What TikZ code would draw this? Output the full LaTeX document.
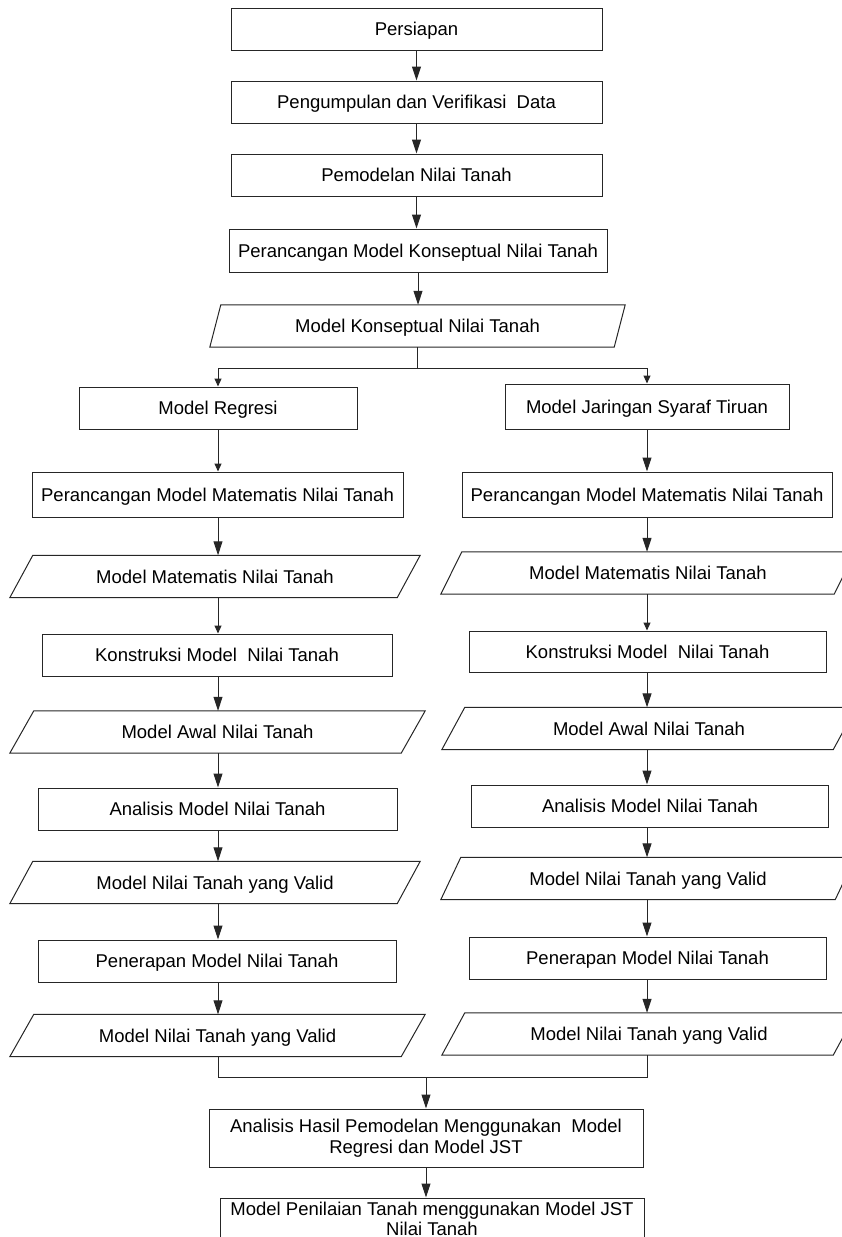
\documentclass[tikz,border=0pt]{standalone}
\usepackage{fontspec}
\setmainfont{Liberation Sans}
\usetikzlibrary{arrows.meta}

\tikzset{
  flow/.style={draw=black!85, line width=1pt},
  proc/.style={flow, rectangle, minimum height=42pt, inner sep=0pt, align=center,
    text height=15pt, text depth=2pt, font=\fontsize{18.5}{20}\selectfont},
  io/.style={rectangle, minimum height=42pt, inner sep=0pt, align=center,
    text height=15pt, text depth=2pt, font=\fontsize{18.5}{20}\selectfont},
  twoline/.style={text height=, text depth=},
  big/.style={flow, -{Triangle[width=9pt,length=14pt]}},
  small/.style={flow, -{Triangle[width=7pt,length=8pt]}},
}

% parallelogram: name, x, y, overall width, skew, text
\newcommand{\ionode}[6]{%
  \node[io, minimum width=#4pt-#5pt] (#1) at (#2,#3) {#6};
  \draw[flow] ([xshift=-#5pt/2]#1.south west) -- ([xshift=-#5pt/2]#1.south east)
    -- ([xshift=#5pt/2]#1.north east) -- ([xshift=#5pt/2]#1.north west) -- cycle;
}

\begin{document}
\begin{tikzpicture}[x=1pt,y=-1pt]
  \useasboundingbox (0,0) rectangle (841,1237);

  \node[proc, minimum width=371pt] (persiapan) at (416.5,29) {Persiapan};
  \node[proc, minimum width=371pt] (kumpul) at (416.5,102) {Pengumpulan dan Verifikasi~ Data};
  \node[proc, minimum width=371pt] (pemodelan) at (416.5,175) {Pemodelan Nilai Tanah};
  \node[proc, minimum width=378pt, minimum height=43pt] (rancang) at (418,250.5) {Perancangan Model Konseptual Nilai Tanah};
  \ionode{konsep}{417.5}{326}{415}{11}{Model Konseptual Nilai Tanah}

  %% kolom regresi
  \node[proc, minimum width=278pt] (regresi) at (218,408) {Model Regresi};
  \node[proc, minimum width=371pt, minimum height=45pt] (rgMat) at (217.5,494.5) {Perancangan Model Matematis Nilai Tanah};
  \ionode{rgMM}{215}{576.5}{410}{23}{Model Matematis Nilai Tanah}
  \node[proc, minimum width=350pt] (rgKons) at (217,655) {Konstruksi Model~ Nilai Tanah};
  \ionode{rgAwal}{217.5}{732}{415}{24}{Model Awal Nilai Tanah}
  \node[proc, minimum width=359pt] (rgAna) at (217.5,809) {Analisis Model Nilai Tanah};
  \ionode{rgValid}{215}{882.5}{410}{23}{Model Nilai Tanah yang Valid}
  \node[proc, minimum width=358pt] (rgTerap) at (217,961) {Penerapan Model Nilai Tanah};
  \ionode{rgHasil}{217.5}{1035.5}{415}{24}{Model Nilai Tanah yang Valid}

  %% kolom JST
  \node[proc, minimum width=284pt, minimum height=45pt] (jst) at (647,406.5) {Model Jaringan Syaraf Tiruan};
  \node[proc, minimum width=370pt, minimum height=45pt] (jsMat) at (647,494.5) {Perancangan Model Matematis Nilai Tanah};
  \ionode{jsMM}{648}{573}{414}{21}{Model Matematis Nilai Tanah}
  \node[proc, minimum width=357pt, minimum height=41pt] (jsKons) at (647.5,651.5) {Konstruksi Model~ Nilai Tanah};
  \ionode{jsAwal}{649}{728.5}{414}{23}{Model Awal Nilai Tanah}
  \node[proc, minimum width=357pt] (jsAna) at (650,806) {Analisis Model Nilai Tanah};
  \ionode{jsValid}{648}{878.5}{414}{20}{Model Nilai Tanah yang Valid}
  \node[proc, minimum width=357pt] (jsTerap) at (647.5,958) {Penerapan Model Nilai Tanah};
  \ionode{jsHasil}{649}{1034}{414}{23}{Model Nilai Tanah yang Valid}

  \node[proc, twoline, minimum width=434pt, minimum height=58pt, font=\fontsize{18.5}{21}\selectfont] (banding) at (426,1138) {Analisis Hasil Pemodelan Menggunakan~ Model\\Regresi dan Model JST};
  \node[proc, twoline, minimum width=424pt] (penilaian) at (432,1219) {Model Penilaian Tanah menggunakan Model JST\\Nilai Tanah};

  \coordinate (split) at ([yshift=-21pt]konsep.south);
  \coordinate (merge) at (426,1077);

  \draw[big] (persiapan.south) -- (persiapan.south |- kumpul.north);
  \draw[big] (kumpul.south) -- (kumpul.south |- pemodelan.north);
  \draw[big] (pemodelan.south) -- (pemodelan.south |- rancang.north);
  \draw[big] (rancang.south) -- (rancang.south |- konsep.north);
  \draw[flow] (konsep.south) -- (split);
  \draw[small] (split) -| (regresi.north);
  \draw[small] (split) -| (jst.north);

  \draw[small] (regresi.south) -- (regresi.south |- rgMat.north);
  \draw[big] (rgMat.south -| regresi) -- (rgMM.north -| regresi);
  \draw[small] (rgMM.south -| regresi) -- (rgKons.north -| regresi);
  \draw[big] (rgKons.south -| regresi) -- (rgAwal.north -| regresi);
  \draw[big] (rgAwal.south -| regresi) -- (rgAna.north -| regresi);
  \draw[big] (rgAna.south -| regresi) -- (rgValid.north -| regresi);
  \draw[big] (rgValid.south -| regresi) -- (rgTerap.north -| regresi);
  \draw[big] (rgTerap.south -| regresi) -- (rgHasil.north -| regresi);

  \draw[big] (jst.south) -- (jst.south |- jsMat.north);
  \draw[big] (jsMat.south -| jst) -- (jsMM.north -| jst);
  \draw[small] (jsMM.south -| jst) -- (jsKons.north -| jst);
  \draw[big] (jsKons.south -| jst) -- (jsAwal.north -| jst);
  \draw[big] (jsAwal.south -| jst) -- (jsAna.north -| jst);
  \draw[big] (jsAna.south -| jst) -- (jsValid.north -| jst);
  \draw[big] (jsValid.south -| jst) -- (jsTerap.north -| jst);
  \draw[big] (jsTerap.south -| jst) -- (jsHasil.north -| jst);

  \draw[flow] (rgHasil.south -| regresi) |- (merge) -| (jsHasil.south -| jst);
  \draw[big] (merge) -- (merge |- banding.north);
  \draw[big] (banding.south) -- (banding.south |- penilaian.north);
\end{tikzpicture}
\end{document}
